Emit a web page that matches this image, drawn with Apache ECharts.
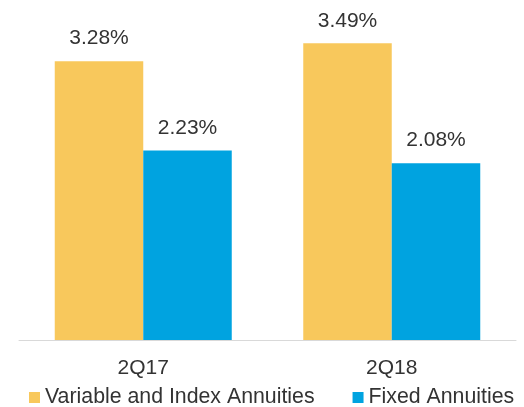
<!DOCTYPE html>
<html>
<head>
<meta charset="utf-8">
<script src="https://cdn.jsdelivr.net/npm/echarts@6/dist/echarts.min.js"></script>
<style>
  html, body { margin: 0; padding: 0; background: #fff; }
  #chart { width: 524px; height: 407px; }
</style>
</head>
<body>
<div id="chart"></div>
<script>
// data
const categories = ['2Q17', '2Q18']
const variableIndex = [3.28, 3.49]
const fixedAnnuities = [2.23, 2.08]

const chart = echarts.init(document.getElementById('chart'))

const labelStyle = {
  show: true,
  position: 'top',
  distance: 12,
  color: '#333333',
  fontSize: 21,
  fontFamily: 'Liberation Sans, Arial, sans-serif',
  formatter: (p) => p.value.toFixed(2) + '%'
}

chart.setOption({
  animation: false,
  backgroundColor: '#fff',
  textStyle: { fontFamily: 'Liberation Sans, Arial, sans-serif' },
  grid: {
    left: 19,
    right: 8,
    top: 0,
    bottom: 67,
    containLabel: false
  },
  legend: {
    top: 387,
    left: 29,
    itemWidth: 11,
    itemHeight: 11,
    itemGap: 38,
    icon: 'rect',
    padding: 0,
    textStyle: {
      color: '#333333',
      fontSize: 21.3
    },
    data: ['Variable and Index Annuities', 'Fixed Annuities']
  },
  xAxis: {
    type: 'category',
    data: categories,
    axisLine: { lineStyle: { color: '#d9d9d9', width: 1 } },
    axisTick: { show: false },
    axisLabel: {
      color: '#333333',
      fontSize: 21,
      margin: 18
    }
  },
  yAxis: {
    type: 'value',
    min: 0,
    max: 4,
    show: false,
    splitLine: { show: false }
  },
  series: [
    {
      name: 'Variable and Index Annuities',
      type: 'bar',
      data: variableIndex,
      barWidth: 88.5,
      barGap: '0%',
      itemStyle: { color: '#f8c85c' },
      label: labelStyle
    },
    {
      name: 'Fixed Annuities',
      type: 'bar',
      data: fixedAnnuities,
      barWidth: 88.5,
      barGap: '0%',
      itemStyle: { color: '#00a3e0' },
      label: labelStyle
    }
  ]
})
</script>
</body>
</html>
